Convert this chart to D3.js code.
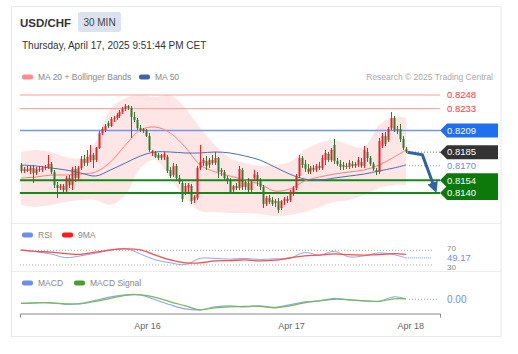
<!DOCTYPE html>
<html>
<head>
  <meta charset="utf-8">
  <script src="https://d3js.org/d3.v7.min.js"></script>
  <style>
    body{
      margin: 0;
      background: #fff;
      font-family: 'Liberation Sans', Arial, sans-serif;
    }
  </style>
</head>
<body>
  <div id="my_dataviz"></div>

  <script>
    // 30 min candles, USD/CHF
    var open = [0.81709,0.81643,0.81665,0.81643,0.81676,0.81620,0.81665,0.81654,0.81676,0.81687,
      0.81720,0.81632,0.81488,0.81455,0.81477,0.81433,0.81565,0.81488,0.81665,0.81565,
      0.81676,0.81775,0.81731,0.81764,0.81819,0.81764,0.81896,0.82061,0.82094,0.82171,
      0.82138,0.82216,0.82227,0.82249,0.82293,0.82326,0.82359,0.82337,0.82238,0.82205,
      0.82116,0.82083,0.82094,0.82028,0.81841,0.81852,0.81819,0.81786,0.81797,0.81797,
      0.81654,0.81598,0.81698,0.81565,0.81510,0.81411,0.81455,0.81477,0.81323,0.81345,
      0.81676,0.81731,0.81753,0.81709,0.81764,0.81731,0.81786,0.81632,0.81632,0.81565,
      0.81532,0.81433,0.81477,0.81455,0.81654,0.81466,0.81510,0.81433,0.81565,0.81598,
      0.81543,0.81466,0.81279,0.81345,0.81323,0.81290,0.81312,0.81235,0.81312,0.81334,
      0.81323,0.81400,0.81455,0.81587,0.81786,0.81720,0.81665,0.81643,0.81676,0.81654,
      0.81698,0.81676,0.81764,0.81830,0.81764,0.81929,0.81753,0.81720,0.81687,0.81698,
      0.81687,0.81720,0.81698,0.81709,0.81742,0.81698,0.81852,0.81786,0.81720,0.81654,
      0.81632,0.81918,0.82028,0.81984,0.82116,0.82227,0.82094,0.82105,0.81995,0.81885];
    var high = [0.81731,0.81687,0.81698,0.81698,0.81709,0.81687,0.81698,0.81698,0.81709,0.81819,
      0.81742,0.81654,0.81521,0.81499,0.81499,0.81587,0.81598,0.81687,0.81698,0.81698,
      0.81808,0.81819,0.81874,0.81929,0.81841,0.81907,0.82083,0.82127,0.82160,0.82194,
      0.82238,0.82249,0.82282,0.82315,0.82348,0.82381,0.82370,0.82359,0.82293,0.82227,
      0.82149,0.82116,0.82105,0.82061,0.81874,0.81863,0.81841,0.81830,0.81852,0.81819,
      0.81687,0.81731,0.81720,0.81598,0.81543,0.81510,0.81510,0.81499,0.81378,0.81698,
      0.81929,0.81786,0.81808,0.81786,0.81819,0.81852,0.81797,0.81676,0.81654,0.81587,
      0.81565,0.81488,0.81510,0.81698,0.81676,0.81543,0.81565,0.81543,0.81654,0.81632,
      0.81565,0.81488,0.81367,0.81378,0.81356,0.81334,0.81345,0.81323,0.81356,0.81367,
      0.81433,0.81477,0.81609,0.81819,0.81808,0.81764,0.81720,0.81698,0.81709,0.81720,
      0.81742,0.81819,0.81874,0.81852,0.81896,0.81995,0.81786,0.81764,0.81742,0.81731,
      0.81764,0.81753,0.81742,0.81797,0.81786,0.81918,0.81896,0.81808,0.81742,0.81676,
      0.82006,0.82061,0.82072,0.82127,0.82293,0.82249,0.82138,0.82160,0.82028,0.81907];
    var low = [0.81620,0.81620,0.81632,0.81609,0.81510,0.81598,0.81632,0.81632,0.81654,0.81665,
      0.81609,0.81455,0.81345,0.81433,0.81400,0.81411,0.81455,0.81433,0.81521,0.81543,
      0.81654,0.81698,0.81698,0.81742,0.81676,0.81742,0.81885,0.82039,0.82072,0.82116,
      0.82127,0.82182,0.82205,0.82227,0.82271,0.82304,0.82315,0.82006,0.82182,0.82094,
      0.82072,0.82061,0.82017,0.81852,0.81808,0.81786,0.81764,0.81764,0.81764,0.81620,
      0.81565,0.81576,0.81543,0.81499,0.81301,0.81378,0.81411,0.81279,0.81290,0.81323,
      0.81654,0.81698,0.81654,0.81676,0.81709,0.81709,0.81565,0.81587,0.81543,0.81499,
      0.81389,0.81400,0.81433,0.81433,0.81433,0.81433,0.81411,0.81400,0.81543,0.81477,
      0.81433,0.81235,0.81257,0.81279,0.81257,0.81246,0.81180,0.81213,0.81268,0.81290,
      0.81301,0.81367,0.81433,0.81565,0.81676,0.81632,0.81609,0.81609,0.81632,0.81632,
      0.81654,0.81654,0.81709,0.81742,0.81742,0.81720,0.81698,0.81654,0.81654,0.81665,
      0.81665,0.81676,0.81676,0.81687,0.81676,0.81676,0.81742,0.81698,0.81643,0.81598,
      0.81609,0.81896,0.81918,0.81962,0.82094,0.82072,0.82050,0.81962,0.81874,0.81841];
    var close = [0.81643,0.81665,0.81643,0.81676,0.81620,0.81665,0.81654,0.81676,0.81687,0.81720,
      0.81632,0.81488,0.81455,0.81477,0.81433,0.81565,0.81488,0.81665,0.81565,0.81676,
      0.81775,0.81731,0.81797,0.81819,0.81764,0.81896,0.82061,0.82105,0.82138,0.82138,
      0.82216,0.82227,0.82260,0.82293,0.82326,0.82359,0.82337,0.82238,0.82205,0.82116,
      0.82094,0.82105,0.82028,0.81874,0.81863,0.81797,0.81786,0.81819,0.81830,0.81643,
      0.81587,0.81698,0.81565,0.81521,0.81334,0.81477,0.81488,0.81312,0.81356,0.81676,
      0.81742,0.81764,0.81698,0.81764,0.81731,0.81786,0.81632,0.81654,0.81565,0.81532,
      0.81411,0.81477,0.81455,0.81665,0.81466,0.81521,0.81433,0.81521,0.81609,0.81543,
      0.81466,0.81279,0.81345,0.81301,0.81279,0.81312,0.81213,0.81312,0.81334,0.81312,
      0.81400,0.81455,0.81587,0.81786,0.81709,0.81665,0.81632,0.81676,0.81654,0.81698,
      0.81676,0.81786,0.81841,0.81764,0.81874,0.81753,0.81720,0.81687,0.81709,0.81687,
      0.81731,0.81698,0.81720,0.81764,0.81698,0.81874,0.81786,0.81720,0.81665,0.81632,
      0.81973,0.82028,0.81940,0.82105,0.82227,0.82094,0.82105,0.81995,0.81896,0.81852];

    // indicators, read every 5 candles
    var bandIdx = [0,5,10,15,20,25,30,35,40,45,50,55,60,65,70,75,80,85,90,95,100,105,110,115,120,125,129];
    var bbUpper = [0.81852,0.81874,0.81852,0.81797,0.81786,0.81962,0.82326,0.82447,0.82480,0.82458,0.82480,0.82337,0.82116,0.81929,0.81786,0.81731,0.81698,0.81709,0.81742,0.81874,0.81951,0.81984,0.81929,0.81907,0.82149,0.82238,0.82227];
    var bbLower = [0.81268,0.81246,0.81268,0.81301,0.81323,0.81323,0.81268,0.81378,0.81676,0.81764,0.81565,0.81345,0.81202,0.81191,0.81180,0.81180,0.81169,0.81147,0.81158,0.81191,0.81246,0.81301,0.81323,0.81378,0.81455,0.81488,0.81488];
    var ma20 = [0.81565,0.81576,0.81598,0.81598,0.81609,0.81632,0.81742,0.81929,0.82094,0.82127,0.82061,0.81907,0.81709,0.81632,0.81587,0.81543,0.81499,0.81422,0.81444,0.81532,0.81576,0.81609,0.81632,0.81654,0.81709,0.81797,0.81874];
    var ma50 = [0.81709,0.81698,0.81676,0.81654,0.81620,0.81587,0.81654,0.81731,0.81808,0.81852,0.81852,0.81841,0.81841,0.81852,0.81841,0.81808,0.81764,0.81687,0.81609,0.81554,0.81543,0.81565,0.81587,0.81609,0.81643,0.81676,0.81709];
    var rsi = [70,66,60,50,55,62,70,75,60,44,36,31,48,48,46,48,45,47,48,64,57,67,52,55,63,58,49.17];
    var rsi9ma = [71,67,65,61,59,65,71,74,71,57,44,36,36,41,42,44,41,43,49,55,57,60,58,57,58,61,59];
    var macd = [-0.00008,-0.00007,-0.00007,-0.0001,-0.00008,-0.00002,0.00005,0.00009,0.00009,-0.00001,-0.00011,-0.00019,-0.00021,-0.00015,-0.00013,-0.00015,-0.00013,-0.00016,-0.00011,-0.00005,-0.00003,0.00002,-0.00001,-0.00003,-0.00004,0.00005,0.00001];
    var macdSignal = [-0.00008,-0.00007,-0.00007,-0.00009,-0.00009,-0.00004,0.00002,0.00008,0.00009,0.00004,-0.00005,-0.00013,-0.00021,-0.00017,-0.00015,-0.00014,-0.00014,-0.00017,-0.00013,-0.00007,-0.00003,0,-0.00001,-0.00003,-0.00004,0.00001,0.00001];

    // key levels
    var resistLevels = [0.8248, 0.8233];
    var pivotLevel = 0.8209;
    var lastPrice = 0.8185;
    var ma50Last = 0.8170;
    var supportLevels = [0.8154, 0.8140];
    var arrowPath = [[129.5, 0.8185], [134.5, 0.8182], [138.3, 0.8148]];

    var tickIdx = [42.2, 90.5, 130.4];
    var tickLabels = ["Apr 16", "Apr 17", "Apr 18"];

    var svg = d3.select("#my_dataviz")
      .append("svg")
      .attr("width", 518)
      .attr("height", 354);

    // card
    svg.append("rect")
      .attr("x", 11.5).attr("y", 6.5)
      .attr("width", 489.5).attr("height", 330)
      .attr("fill", "#fff")
      .attr("stroke", "#e8e8e8");
    [223.5, 271.5].forEach(function (yy) {
      svg.append("line")
        .attr("x1", 12).attr("x2", 501)
        .attr("y1", yy).attr("y2", yy)
        .attr("stroke", "#ececec");
    });

    // header
    svg.append("text")
      .attr("x", 20).attr("y", 27)
      .style("font-size", "11.5px").style("font-weight", "bold")
      .attr("fill", "#333")
      .text("USD/CHF");
    svg.append("rect")
      .attr("x", 78).attr("y", 12)
      .attr("width", 43).attr("height", 20)
      .attr("rx", 2)
      .attr("fill", "#dde3ee");
    svg.append("text")
      .attr("x", 99.5).attr("y", 25.5)
      .style("font-size", "10px").style("text-anchor", "middle")
      .attr("fill", "#444")
      .text("30 MIN");
    svg.append("text")
      .attr("x", 22).attr("y", 49)
      .style("font-size", "10px")
      .attr("fill", "#333")
      .text("Thursday, April 17, 2025 9:51:44 PM CET");

    // legends
    function legend(items, yy) {
      items.forEach(function (it) {
        svg.append("rect")
          .attr("x", it[0]).attr("y", yy - 2.5)
          .attr("width", 11).attr("height", 5)
          .attr("rx", 2)
          .attr("fill", it[1]);
        svg.append("text")
          .attr("x", it[0] + 16).attr("y", yy + 3)
          .style("font-size", "8.5px")
          .attr("fill", "#888")
          .text(it[2]);
      });
    }
    legend([[22, "#ff8c8c", "MA 20 + Bollinger Bands"], [139, "#3f66a8", "MA 50"]], 77);
    legend([[22, "#6f8fe6", "RSI"], [62, "#ff1a1a", "9MA"]], 235);
    legend([[22, "#6f8fe6", "MACD"], [74, "#4c9e2a", "MACD Signal"]], 283);

    svg.append("text")
      .attr("x", 493).attr("y", 80)
      .style("font-size", "8.5px").style("text-anchor", "end")
      .attr("fill", "#aaa")
      .text("Research \u00a9 2025 Trading Central");

    // scales
    var x = d3.scaleLinear().domain([0, 129]).range([21, 406]);
    var xAxisScale = d3.scaleLinear().domain([x.invert(20), x.invert(440)]).range([20, 440]);
    var y = d3.scaleLinear().domain([0.8140, 0.8248]).range([193, 95]);
    var yRsi = d3.scaleLinear().domain([30, 70]).range([265, 250.3]);
    var yMacd = d3.scaleLinear().domain([-0.0002, 0.0002]).range([309.3, 289.3]);
    var xL = 20, xR = 440;

    // Bollinger band
    var bandArea = d3.area()
      .x(function (d, i) { return x(bandIdx[i]); })
      .y0(function (d, i) { return y(bbLower[i]); })
      .y1(function (d) { return y(d); })
      .curve(d3.curveCatmullRom);
    svg.append("path")
      .datum(bbUpper)
      .attr("d", bandArea)
      .attr("fill", "#ff3030")
      .attr("fill-opacity", 0.12);

    // level lines
    function hline(v, color, w) {
      svg.append("line")
        .attr("x1", xL).attr("x2", xR)
        .attr("y1", y(v)).attr("y2", y(v))
        .attr("stroke", color).attr("stroke-width", w);
    }
    resistLevels.forEach(function (v) { hline(v, "#ff9c9c", 1); });
    hline(pivotLevel, "#6f97ee", 1.5);
    supportLevels.forEach(function (v) { hline(v, "#138a13", 2); });

    // moving averages
    function sampled(yS) {
      return d3.line()
        .x(function (d, i) { return x(bandIdx[i]); })
        .y(function (d) { return yS(d); })
        .curve(d3.curveCatmullRom);
    }
    svg.append("path").datum(ma20).attr("d", sampled(y))
      .attr("fill", "none").attr("stroke", "#ff8080").attr("stroke-width", 1);
    svg.append("path").datum(ma50).attr("d", sampled(y))
      .attr("fill", "none").attr("stroke", "#4a6fb0").attr("stroke-width", 1);

    // candles
    var idx = d3.range(open.length);
    function colorOf(i) { return close[i] > open[i] ? "#e4262b" : "#2e7d2e"; }
    svg.selectAll("wick")
      .data(idx).enter()
      .append("line")
      .attr("x1", function (i) { return Math.round(x(i)) + 0.5; })
      .attr("x2", function (i) { return Math.round(x(i)) + 0.5; })
      .attr("y1", function (i) { return y(high[i]); })
      .attr("y2", function (i) { return y(low[i]); })
      .attr("stroke", colorOf);
    svg.selectAll("body")
      .data(idx).enter()
      .append("rect")
      .attr("x", function (i) { return Math.round(x(i)) - 0.5; })
      .attr("width", 2)
      .attr("y", function (i) { return y(Math.max(open[i], close[i])); })
      .attr("height", function (i) { return Math.max(1, Math.abs(y(open[i]) - y(close[i]))); })
      .attr("fill", colorOf);

    // dotted connectors to tags
    var last = open.length - 1;
    svg.append("line")
      .attr("x1", x(last) + 3).attr("x2", xR)
      .attr("y1", y(lastPrice)).attr("y2", y(lastPrice))
      .attr("stroke", "#777").attr("stroke-dasharray", "1,2");
    svg.append("line")
      .attr("x1", x(last) + 3).attr("x2", xR)
      .attr("y1", y(ma50Last)).attr("y2", y(ma50Last))
      .attr("stroke", "#7d99d4").attr("stroke-dasharray", "1,2");

    // forecast arrow
    svg.append("defs").append("marker")
      .attr("id", "head")
      .attr("viewBox", "0 0 10 10")
      .attr("refX", 3).attr("refY", 5)
      .attr("markerUnits", "userSpaceOnUse")
      .attr("markerWidth", 11).attr("markerHeight", 11)
      .attr("orient", "auto")
      .append("path")
      .attr("d", "M0,0L10,5L0,10z")
      .attr("fill", "#2f63a6");
    svg.append("path")
      .datum(arrowPath)
      .attr("d", d3.line().x(function (d) { return x(d[0]); }).y(function (d) { return y(d[1]); }))
      .attr("fill", "none")
      .attr("stroke", "#2f63a6")
      .attr("stroke-width", 3)
      .attr("marker-end", "url(#head)");

    // price tags
    function tag(v, fill, label, h) {
      var yy = y(v);
      var hh = h / 2;
      svg.append("path")
        .attr("d", "M" + xR + "," + yy + "L" + (xR + 7) + "," + (yy - hh) + "H498V" + (yy + hh) + "H" + (xR + 7) + "Z")
        .attr("fill", fill);
      svg.append("text")
        .attr("x", 447).attr("y", yy)
        .attr("dy", "0.35em")
        .style("font-size", "9.5px")
        .attr("fill", "#fff")
        .text(label);
    }
    function plainLabel(v, color, label) {
      svg.append("text")
        .attr("x", 447).attr("y", y(v))
        .attr("dy", "0.35em")
        .style("font-size", "9.5px")
        .attr("fill", color)
        .text(label);
    }
    resistLevels.forEach(function (v) { plainLabel(v, "#ff3a3a", v.toFixed(4)); });
    tag(pivotLevel, "#1f6ff0", pivotLevel.toFixed(4), 14);
    tag(lastPrice, "#333", lastPrice.toFixed(4), 14);
    plainLabel(ma50Last, "#6d8fcc", ma50Last.toFixed(4));
    supportLevels.forEach(function (v) { tag(v, "#0b7a0b", v.toFixed(4), 14); });

    // RSI panel
    [70, 30].forEach(function (v) {
      svg.append("line")
        .attr("x1", xL).attr("x2", 432)
        .attr("y1", yRsi(v)).attr("y2", yRsi(v))
        .attr("stroke", "#aaa").attr("stroke-dasharray", "1,2");
    });
    svg.append("line")
      .attr("x1", x(last)).attr("x2", 432)
      .attr("y1", yRsi(rsi[rsi.length - 1])).attr("y2", yRsi(rsi[rsi.length - 1]))
      .attr("stroke", "#8aa4ea").attr("stroke-dasharray", "1,1");
    svg.append("path").datum(rsi).attr("d", sampled(yRsi))
      .attr("fill", "none").attr("stroke", "#8ea8f0").attr("stroke-width", 1);
    svg.append("path").datum(rsi9ma).attr("d", sampled(yRsi))
      .attr("fill", "none").attr("stroke", "#ff4d4d").attr("stroke-width", 1.3);
    // side labels, nudged apart so they do not collide
    svg.append("text")
      .attr("x", 447).attr("y", yRsi(70) - 2.5)
      .attr("dy", "0.35em")
      .style("font-size", "8px")
      .attr("fill", "#888")
      .text(70);
    svg.append("text")
      .attr("x", 447).attr("y", yRsi(30) + 2.5)
      .attr("dy", "0.35em")
      .style("font-size", "8px")
      .attr("fill", "#888")
      .text(30);
    svg.append("text")
      .attr("x", 447).attr("y", yRsi(rsi[rsi.length - 1]))
      .attr("dy", "0.35em")
      .style("font-size", "9.5px")
      .attr("fill", "#6f8fe6")
      .text(rsi[rsi.length - 1].toFixed(2));

    // MACD panel
    svg.append("line")
      .attr("x1", x(last) + 3).attr("x2", 438)
      .attr("y1", yMacd(0)).attr("y2", yMacd(0))
      .attr("stroke", "#8aa4ea").attr("stroke-dasharray", "1,2");
    svg.append("path").datum(macd).attr("d", sampled(yMacd))
      .attr("fill", "none").attr("stroke", "#8ea8f0").attr("stroke-width", 1.2);
    svg.append("path").datum(macdSignal).attr("d", sampled(yMacd))
      .attr("fill", "none").attr("stroke", "#7ab85a").attr("stroke-width", 1.2);
    svg.append("text")
      .attr("x", 447).attr("y", yMacd(0))
      .attr("dy", "0.35em")
      .style("font-size", "10px")
      .attr("fill", "#6f8fe6")
      .text(macd[macd.length - 1].toFixed(2));

    // X axis
    var xAxis = svg.append("g")
      .attr("transform", "translate(0,313.5)")
      .call(d3.axisBottom(xAxisScale)
        .tickValues(tickIdx)
        .tickSizeInner(0)
        .tickSizeOuter(4)
        .tickPadding(9)
        .tickFormat(function (d, i) { return tickLabels[i]; }));
    xAxis.select(".domain").attr("stroke", "#888");
    xAxis.selectAll("text")
      .style("font-size", "9px")
      .style("font-family", "'Liberation Sans', Arial, sans-serif")
      .attr("fill", "#666");
  </script>
</body>
</html>
